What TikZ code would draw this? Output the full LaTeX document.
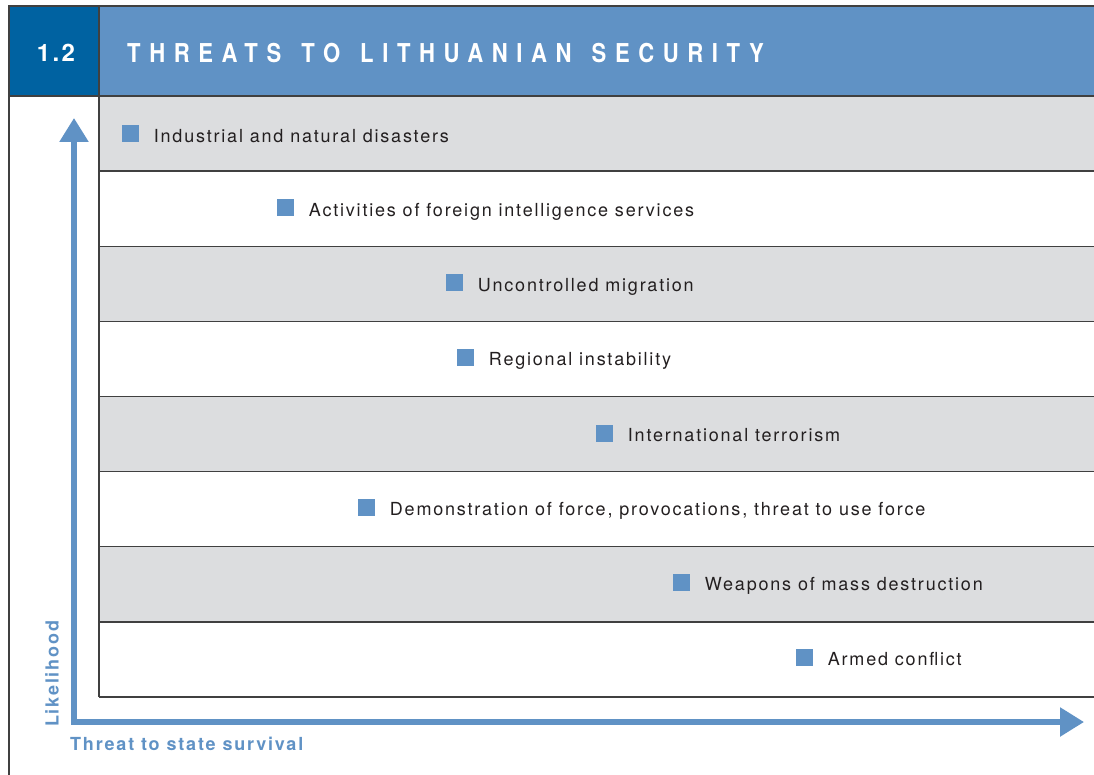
\documentclass[tikz,border=0pt]{standalone}
\usepackage{fontspec}
\setmainfont{TeX Gyre Heros}[LetterSpace=10]
\newfontfamily\titlefont{TeX Gyre Heros}[LetterSpace=33,FakeStretch=0.85]
\usetikzlibrary{arrows.meta}
\definecolor{headblue}{RGB}{96,146,197}
\definecolor{numblue}{RGB}{0,98,161}
\definecolor{rowgray}{RGB}{220,221,223}
\definecolor{inkgray}{RGB}{35,31,32}

\begin{document}
\begin{tikzpicture}[
            x=1pt, y=-1pt,
            frame/.style={draw=black!75, line width=1.3pt},
            threatmark/.style={fill=headblue, minimum size=17pt, inner sep=0pt},
            threatlabel/.style={anchor=base west, inner sep=0pt, text=inkgray, font=\fontsize{18}{20}\selectfont},
            axis/.style={draw=headblue, line width=5.5pt, line join=miter, {Triangle[length=24pt,width=28pt]}-{Triangle[length=24pt,width=28pt]}},
            axislabel/.style={text=headblue, inner sep=0pt, font=\fontsize{18}{20}\selectfont\bfseries},
        ]
            \useasboundingbox (0,0) rectangle (1094,775);

            % --- Cabecera ---
            \fill[numblue] (9,6) rectangle (99,96);
            \fill[headblue] (99,6) rectangle (1094,96);
            \node[text=white, font=\fontsize{24}{26}\selectfont\bfseries] (num) at (56,53) {1.2};
            \node[text=white, anchor=west, inner sep=0pt, font=\titlefont\fontsize{26}{28}\selectfont\bfseries] (title) at (127,53) {\spaceskip=20pt THREATS TO LITHUANIAN SECURITY};

            % --- Filas ---
            \foreach \i in {0,2,4,6} {
                \fill[rowgray] (99,{96+75.125*\i}) rectangle (1094,{96+75.125*(\i+1)});
            }
            \foreach \i in {1,...,8} {
                \draw[frame] (99,{96+75.125*\i}) -- (1094,{96+75.125*\i});
            }
            \draw[frame] (9,775) -- (9,6) -- (1094,6);
            \draw[frame] (9,96) -- (1094,96);
            \draw[frame] (99,6) -- (99,697);

            % --- Amenazas ---
            \foreach \x/\y/\name/\txt in {
                130/134/disasters/{Industrial and natural disasters},
                285/208/intel/{Activities of foreign intelligence services},
                454/283/migration/{Uncontrolled migration},
                465/357/regional/{Regional instability},
                604/433/terror/{International terrorism},
                366/507/force/{Demonstration of force, provocations, threat to use force},
                681/582/wmd/{Weapons of mass destruction},
                804/657/armed/{Armed conflict}} {
                \node[threatmark] (m\name) at (\x,\y) {};
                \node[threatlabel] (t\name) at ([xshift=15pt]m\name.south east) {\txt};
            }

            % --- Ejes ---
            \coordinate (ytop) at (74,118);
            \coordinate (origin) at (74,722);
            \coordinate (xend) at (1084,722);
            \draw[axis] (ytop) -- (origin) -- (xend);
            \node[axislabel, anchor=north west] (xlabel) at (70,737) {Threat to state survival};
            \node[axislabel, anchor=west, rotate=90] (ylabel) at (52,727) {Likelihood};
        \end{tikzpicture}
\end{document}
